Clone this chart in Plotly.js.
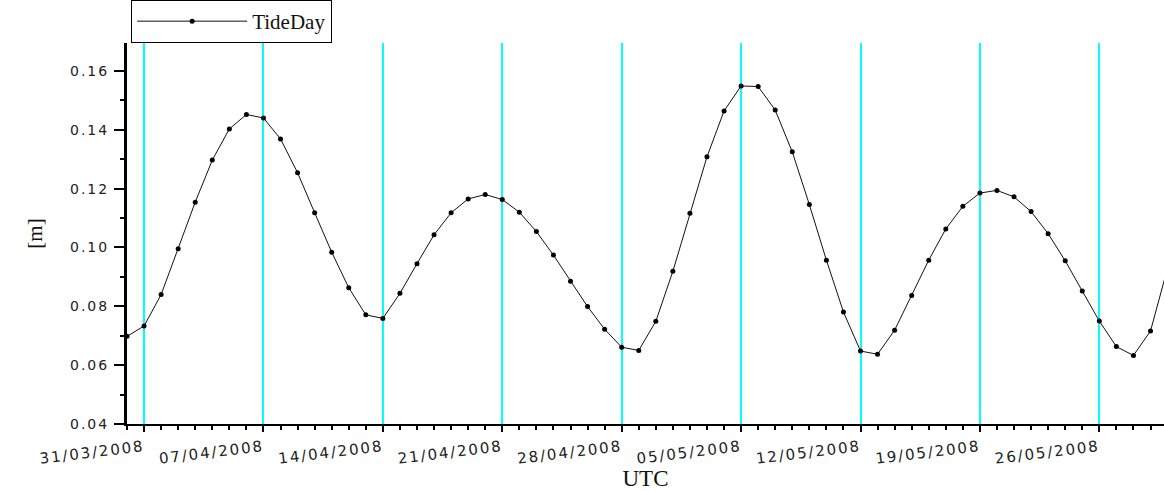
<!DOCTYPE html>
<html>
<head>
<meta charset="utf-8">
<script src="https://cdn.plot.ly/plotly-3.0.1.min.js"></script>
<style>
html,body{margin:0;padding:0;background:#fff;}
#chart{width:1164px;height:491px;}
#chart .xtick text{letter-spacing:1.9px;}
#chart .ytick text{letter-spacing:2px;}
</style>
</head>
<body>
<div id="chart"></div>
<script>
const dates = [
  "2008-03-30","2008-03-31","2008-04-01","2008-04-02","2008-04-03","2008-04-04","2008-04-05","2008-04-06",
  "2008-04-07","2008-04-08","2008-04-09","2008-04-10","2008-04-11","2008-04-12","2008-04-13","2008-04-14",
  "2008-04-15","2008-04-16","2008-04-17","2008-04-18","2008-04-19","2008-04-20","2008-04-21","2008-04-22",
  "2008-04-23","2008-04-24","2008-04-25","2008-04-26","2008-04-27","2008-04-28","2008-04-29","2008-04-30",
  "2008-05-01","2008-05-02","2008-05-03","2008-05-04","2008-05-05","2008-05-06","2008-05-07","2008-05-08",
  "2008-05-09","2008-05-10","2008-05-11","2008-05-12","2008-05-13","2008-05-14","2008-05-15","2008-05-16",
  "2008-05-17","2008-05-18","2008-05-19","2008-05-20","2008-05-21","2008-05-22","2008-05-23","2008-05-24",
  "2008-05-25","2008-05-26","2008-05-27","2008-05-28","2008-05-29","2008-05-30"
];
const tideDay = [
  0.0698,0.0733,0.0840,0.0996,0.1154,0.1297,0.1403,0.1452,
  0.1440,0.1369,0.1254,0.1118,0.0984,0.0863,0.0771,0.0759,
  0.0844,0.0945,0.1043,0.1118,0.1165,0.1180,0.1163,0.1120,
  0.1054,0.0974,0.0885,0.0799,0.0722,0.0661,0.0650,0.0749,
  0.0919,0.1116,0.1308,0.1464,0.1549,0.1547,0.1467,0.1325,
  0.1146,0.0957,0.0781,0.0648,0.0637,0.0719,0.0837,0.0957,
  0.1063,0.1140,0.1185,0.1194,0.1172,0.1122,0.1047,0.0955,
  0.0852,0.0750,0.0663,0.0633,0.0716,0.0930
];
const seriesName = "TideDay";
const xTitle = "UTC";
const yTitle = "[m]";

const trace = {
  x: dates, y: tideDay, name: seriesName,
  type: "scatter", mode: "lines+markers",
  line: {color: "#111", width: 1},
  marker: {color: "#000", size: 5, symbol: "circle"},
  cliponaxis: true
};

const layout = {
  width: 1164, height: 491,
  margin: {l: 127, r: 0, t: 41, b: 67},
  paper_bgcolor: "#fff", plot_bgcolor: "#fff",
  showlegend: true,
  legend: {
    x: 0.004, y: 1.0, xanchor: "left", yanchor: "bottom",
    bordercolor: "#000", borderwidth: 1, bgcolor: "#fff",
    font: {family: "Liberation Serif, Times New Roman, serif", size: 21, color: "#111"},
    itemwidth: 110
  },
  xaxis: {
    type: "date",
    range: ["2008-03-30 00:00", "2008-05-29 19:00"],
    tick0: "2008-03-31", dtick: 7 * 86400000,
    tickformat: "%d/%m/%Y",
    tickangle: -7,
    ticklabelstandoff: 1,
    ticks: "outside", ticklen: 6, tickwidth: 2, tickcolor: "#000",
    showgrid: true, gridcolor: "#00FFFF", gridwidth: 2,
    showline: true, linecolor: "#000", linewidth: 2,
    zeroline: false,
    minor: {dtick: 86400000, ticks: "outside", ticklen: 4, tickwidth: 2, tickcolor: "#000", showgrid: false},
    tickfont: {family: "DejaVu Sans, Verdana, sans-serif", size: 15, color: "#222"},
    title: {text: xTitle, font: {family: "Liberation Serif, Times New Roman, serif", size: 23, color: "#111"}, standoff: 6}
  },
  yaxis: {
    range: [0.04, 0.1695],
    tick0: 0.04, dtick: 0.02,
    tickformat: ".2f",
    ticks: "outside", ticklen: 10, tickwidth: 1.5, tickcolor: "#000",
    ticklabelstandoff: 2,
    showgrid: false, zeroline: false,
    showline: true, linecolor: "#000", linewidth: 3,
    minor: {dtick: 0.01, ticks: "outside", ticklen: 4, tickwidth: 1.5, tickcolor: "#000", showgrid: false},
    tickfont: {family: "DejaVu Sans, Verdana, sans-serif", size: 14, color: "#222"},
    title: {text: yTitle, font: {family: "Liberation Serif, Times New Roman, serif", size: 21, color: "#111"}, standoff: 30}
  }
};

Plotly.newPlot("chart", [trace], layout, {displayModeBar: false, responsive: false});
</script>
</body>
</html>
